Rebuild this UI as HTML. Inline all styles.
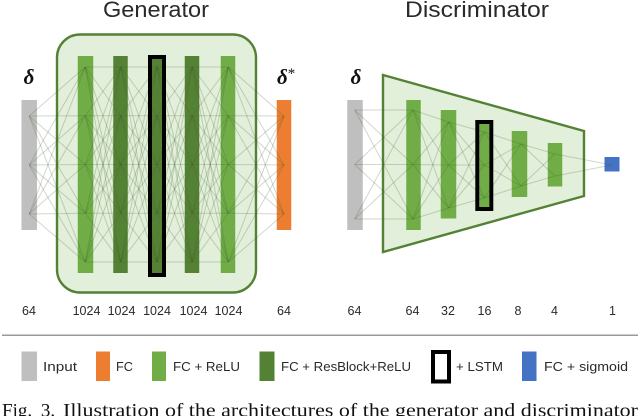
<!DOCTYPE html>
<html>
<head>
<meta charset="utf-8">
<style>
html,body{margin:0;padding:0;background:#fff;width:640px;height:416px;overflow:hidden}
svg{display:block}
text{font-family:"Liberation Sans",sans-serif;fill:#2a2a2a}
</style>
</head>
<body>
<svg id="fig" width="640" height="416" viewBox="0 0 640 416" xmlns="http://www.w3.org/2000/svg">
  <defs>
    <filter id="soft" x="-5%" y="-5%" width="110%" height="110%"><feGaussianBlur stdDeviation="0.35"/></filter>
  </defs>
  <text x="103" y="17" font-size="22" textLength="106" lengthAdjust="spacingAndGlyphs">Generator</text>
  <text x="405" y="17" font-size="22" textLength="144" lengthAdjust="spacingAndGlyphs">Discriminator</text>

  <rect x="57" y="34.5" width="199" height="258" rx="23" fill="#e2efda" stroke="#548235" stroke-width="2.4"/>
  <polygon points="383,75 584,131 584,196 383,252" fill="#e2efda" stroke="#548235" stroke-width="2.4"/>

  <g id="bars"></g>
  <g id="links" filter="url(#soft)"></g>
  <g id="frames"></g>
  <g id="labels"></g>

  <text x="29" y="84" text-anchor="middle" font-size="21" font-weight="bold" font-style="italic" style="font-family:'Liberation Serif',serif;fill:#111">δ</text>
  <text x="277" y="84" font-size="21" font-weight="bold" font-style="italic" style="font-family:'Liberation Serif',serif;fill:#111">δ<tspan font-size="15" dy="-6" font-weight="normal" font-style="normal">*</tspan></text>
  <text x="356" y="84" text-anchor="middle" font-size="21" font-weight="bold" font-style="italic" style="font-family:'Liberation Serif',serif;fill:#111">δ</text>

  <rect x="2" y="334.5" width="636" height="1.5" fill="#999"/>
  <g>
    <rect x="21.5" y="351.5" width="15.5" height="29.5" fill="#bfbfbf"/>
    <text x="43" y="371" font-size="13" textLength="34" lengthAdjust="spacingAndGlyphs">Input</text>
    <rect x="96" y="351.5" width="14" height="29.5" fill="#ed7d31"/>
    <text x="116" y="371" font-size="13" textLength="17" lengthAdjust="spacingAndGlyphs">FC</text>
    <rect x="152" y="351.5" width="14" height="29.5" fill="#70ad47"/>
    <text x="173" y="371" font-size="13" textLength="67" lengthAdjust="spacingAndGlyphs">FC + ReLU</text>
    <rect x="259.5" y="351.5" width="15" height="29.5" fill="#548235"/>
    <text x="281" y="371" font-size="13" textLength="130" lengthAdjust="spacingAndGlyphs">FC + ResBlock+ReLU</text>
    <rect x="433" y="352" width="16" height="29.5" fill="#fff" stroke="#000" stroke-width="4"/>
    <text x="456" y="371" font-size="13" textLength="47" lengthAdjust="spacingAndGlyphs">+ LSTM</text>
    <rect x="522" y="351.5" width="14.5" height="29.5" fill="#4472c4"/>
    <text x="544" y="371" font-size="13" textLength="84" lengthAdjust="spacingAndGlyphs">FC + sigmoid</text>
  </g>

  <text x="2" y="416.5" font-size="19" word-spacing="4" style="font-family:'Liberation Serif',serif;fill:#111">Fig. 3.</text>
  <text x="63" y="416.5" font-size="19" textLength="575" lengthAdjust="spacingAndGlyphs" style="font-family:'Liberation Serif',serif;fill:#111">Illustration of the architectures of the generator and discriminator</text>
</svg>
<script>
var NS = 'http://www.w3.org/2000/svg';

/* layer sizes as printed under each network */
var generatorLayerSizes = ['64', '1024', '1024', '1024', '1024', '1024', '64'];
var discriminatorLayerSizes = ['64', '64', '32', '16', '8', '4', '1'];
/* drawn node count per layer */
var generatorNodeCounts = [3, 5, 5, 5, 5, 5, 3];
var discriminatorNodeCounts = [3, 3, 3, 3, 2, 2, 1];
/* layer kinds */
var generatorKinds = ['input', 'relu', 'res', 'lstm', 'res', 'relu', 'fc'];
var discriminatorKinds = ['input', 'relu', 'relu', 'lstm-relu', 'relu', 'relu', 'sigmoid'];

var COLORS = { input: '#bfbfbf', relu: '#70ad47', res: '#548235', lstm: '#548235', 'lstm-relu': '#70ad47', fc: '#ed7d31', sigmoid: '#4472c4' };

/* layout geometry */
var GEN = {
  cx: [29.2, 85.3, 120.7, 157, 192.2, 228.3, 284],
  barCx: [29.2, 85.5, 120.5, 157, 192, 228, 284],
  barW: [15.5, 15.5, 14.5, 10, 14.5, 14.5, 14.5],
  top: [100, 56, 56, 59, 56, 56, 100],
  bottom: [230, 273, 273, 273, 273, 273, 230],
  nodeTop: [116, 67, 67, 67, 67, 67, 116],
  nodeBottom: [214, 262, 262, 262, 262, 262, 214],
  labelCx: [29, 86.5, 121.5, 157, 193.5, 228.5, 284]
};
var DIS = {
  cx: [354.7, 413, 448.5, 484.5, 521, 555, 612],
  barCx: [355, 413.5, 448.5, 484.3, 519.5, 555, 612],
  barW: [15.5, 14.5, 15.5, 10, 15.5, 14.5, 15],
  top: [100, 100, 110, 124, 131, 143, 157],
  bottom: [230, 230, 218.5, 207, 197, 186.5, 171.5],
  nodeTop: [110, 110, 122, 132, 144, 154, 165],
  nodeBottom: [219, 219, 208, 198, 186, 176, 165],
  labelCx: [354.5, 412.5, 448, 484.5, 518, 554.5, 612.5]
};

function make(tag, attrs, parent) {
  var el = document.createElementNS(NS, tag);
  for (var k in attrs) el.setAttribute(k, attrs[k]);
  parent.appendChild(el);
  return el;
}

function nodeYs(g, i, count) {
  if (count === 1) return [g.nodeTop[i]];
  var ys = [];
  for (var n = 0; n < count; n++) ys.push(g.nodeTop[i] + (g.nodeBottom[i] - g.nodeTop[i]) * n / (count - 1));
  return ys;
}

function drawNetwork(net, g, sizes, counts, kinds) {
  var bars = document.getElementById('bars');
  var links = document.getElementById('links');
  var frames = document.getElementById('frames');
  var labels = document.getElementById('labels');
  sizes.forEach(function (size, i) {
    var kind = kinds[i];
    var bar = make('rect', { x: g.barCx[i] - g.barW[i] / 2, y: g.top[i], width: g.barW[i], height: g.bottom[i] - g.top[i], fill: COLORS[kind] }, bars);
    
    
    if (kind.indexOf('lstm') === 0) {
      var frame = make('rect', { x: g.barCx[i] - 7, y: g.top[i] - 2, width: 14, height: g.bottom[i] - g.top[i] + 4, fill: 'none', stroke: '#000', 'stroke-width': 4 }, frames);
      
      
    }
    var label = make('text', { x: g.labelCx[i], y: 315, 'font-size': 12.5, 'text-anchor': 'middle' }, labels);
    label.textContent = size;
    
    
    if (i === sizes.length - 1) return;
    var a = nodeYs(g, i, counts[i]);
    var b = nodeYs(g, i + 1, counts[i + 1]);
    a.forEach(function (y1) {
      b.forEach(function (y2) {
        var line = make('line', { x1: g.cx[i], y1: y1, x2: g.cx[i + 1], y2: y2, stroke: '#3f5a2a', 'stroke-opacity': 0.24, 'stroke-width': 1 }, links);
        
        
      });
    });
  });
}

drawNetwork('generator', GEN, generatorLayerSizes, generatorNodeCounts, generatorKinds);
drawNetwork('discriminator', DIS, discriminatorLayerSizes, discriminatorNodeCounts, discriminatorKinds);
</script>
</body>
</html>
